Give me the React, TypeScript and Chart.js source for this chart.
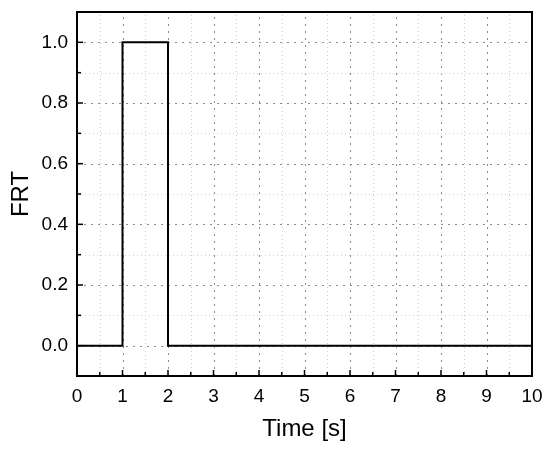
import React, { useEffect, useRef } from "react";
import { Chart, registerables } from "chart.js";

Chart.register(...registerables);

const timeValues = [0, 1, 1, 2, 2, 10];
const frtValues = [0, 0, 1, 1, 0, 0];
const xMin = 0;
const xMax = 10;
const yMin = -0.1;
const yMax = 1.1;
const xTickStep = 0.5;
const yTickStep = 0.1;
const xTitle = "Time [s]";
const yTitle = "FRT";

const isMultiple = (v: number, step: number) => Math.abs(Math.round(v / step) - v / step) < 1e-6;

const gridPlugin = {
  id: "originGrid",
  beforeDatasetsDraw(chart: any) {
    const { ctx, chartArea, scales } = chart;
    const { left, right, top, bottom } = chartArea;
    const xs = scales.x;
    const ys = scales.y;
    ctx.save();
    for (let v = xMin + xTickStep; v < xMax - 1e-9; v += xTickStep) {
      const px = Math.round(xs.getPixelForValue(v)) + 0.5;
      const major = isMultiple(v, 1);
      ctx.beginPath();
      ctx.strokeStyle = major ? "#8c8c8c" : "#cfcfcf";
      ctx.lineWidth = 1;
      ctx.setLineDash(major ? [2, 5] : [1, 3]);
      ctx.moveTo(px, bottom);
      ctx.lineTo(px, top);
      ctx.stroke();
    }
    for (let v = yMin + yTickStep; v < yMax - 1e-9; v += yTickStep) {
      const py = Math.round(ys.getPixelForValue(v)) + 0.5;
      const major = isMultiple(v, 0.2);
      ctx.beginPath();
      ctx.strokeStyle = major ? "#8c8c8c" : "#cfcfcf";
      ctx.lineWidth = 1;
      ctx.setLineDash(major ? [2, 5] : [1, 3]);
      ctx.moveTo(left, py);
      ctx.lineTo(right, py);
      ctx.stroke();
    }
    ctx.restore();
  },
  afterDatasetsDraw(chart: any) {
    const { ctx, chartArea, scales } = chart;
    const { left, right, top, bottom } = chartArea;
    const xs = scales.x;
    const ys = scales.y;
    ctx.save();
    ctx.setLineDash([]);
    ctx.strokeStyle = "#000";
    ctx.lineWidth = 1.5;
    for (let v = xMin; v <= xMax + 1e-9; v += xTickStep) {
      const px = xs.getPixelForValue(v);
      const len = isMultiple(v, 1) ? 6 : 4;
      ctx.beginPath();
      ctx.moveTo(px, bottom);
      ctx.lineTo(px, bottom - len);
      ctx.stroke();
    }
    for (let v = yMin; v <= yMax + 1e-9; v += yTickStep) {
      const py = ys.getPixelForValue(v);
      const len = isMultiple(v, 0.2) ? 6 : 4;
      ctx.beginPath();
      ctx.moveTo(left, py);
      ctx.lineTo(left + len, py);
      ctx.stroke();
    }
    ctx.lineWidth = 2;
    ctx.strokeRect(left, top, right - left, bottom - top);
    ctx.restore();
  },
};

export default function App() {
  const canvasRef = useRef<HTMLCanvasElement | null>(null);

  useEffect(() => {
    const canvas = canvasRef.current;
    if (!canvas) return;
    const chart = new Chart(canvas, {
      type: "scatter",
      data: {
        datasets: [
          {
            data: timeValues.map((t, i) => ({ x: t, y: frtValues[i] })),
            showLine: true,
            borderColor: "#000",
            borderWidth: 2,
            pointRadius: 0,
            tension: 0,
            fill: false,
          },
        ],
      },
      options: {
        responsive: false,
        animation: false,
        events: [],
        layout: { padding: { left: 0, top: 12, right: 18, bottom: 0 } },
        plugins: {
          legend: { display: false },
          tooltip: { enabled: false },
        },
        scales: {
          x: {
            type: "linear",
            min: xMin,
            max: xMax,
            grid: { display: false },
            border: { display: false },
            afterFit: (s: any) => {
              s.height = 83;
              s.paddingLeft = 0;
              s.paddingRight = 0;
            },
            ticks: {
              stepSize: xTickStep,
              autoSkip: false,
              maxRotation: 0,
              padding: 1,
              color: "#000",
              font: { family: "'Liberation Sans', Arial, sans-serif", size: 19 },
              callback: (v: any) => (isMultiple(Number(v), 1) ? String(Math.round(Number(v))) : ""),
            },
            title: {
              display: true,
              text: xTitle,
              color: "#000",
              font: { family: "'Liberation Sans', Arial, sans-serif", size: 24 },
              padding: { top: 0, bottom: 15 },
            },
          },
          y: {
            type: "linear",
            min: yMin,
            max: yMax,
            grid: { display: false },
            border: { display: false },
            afterFit: (s: any) => {
              s.width = 77;
              s.paddingTop = 0;
              s.paddingBottom = 0;
            },
            ticks: {
              stepSize: yTickStep,
              autoSkip: false,
              padding: 1,
              color: "#000",
              font: { family: "'Liberation Sans', Arial, sans-serif", size: 19 },
              callback: (v: any) => (isMultiple(Number(v), 0.2) ? Number(v).toFixed(1) : ""),
            },
            title: {
              display: true,
              text: yTitle,
              color: "#000",
              font: { family: "'Liberation Sans', Arial, sans-serif", size: 24 },
              padding: { top: 7, bottom: 0 },
            },
          },
        },
      },
      plugins: [gridPlugin],
    });
    return () => chart.destroy();
  }, []);

  return (
    <div style={{ position: "absolute", left: 0, top: 0, width: 550, height: 459, background: "#fff" }}>
      <canvas ref={canvasRef} width={550} height={459} style={{ display: "block" }} />
    </div>
  );
}
